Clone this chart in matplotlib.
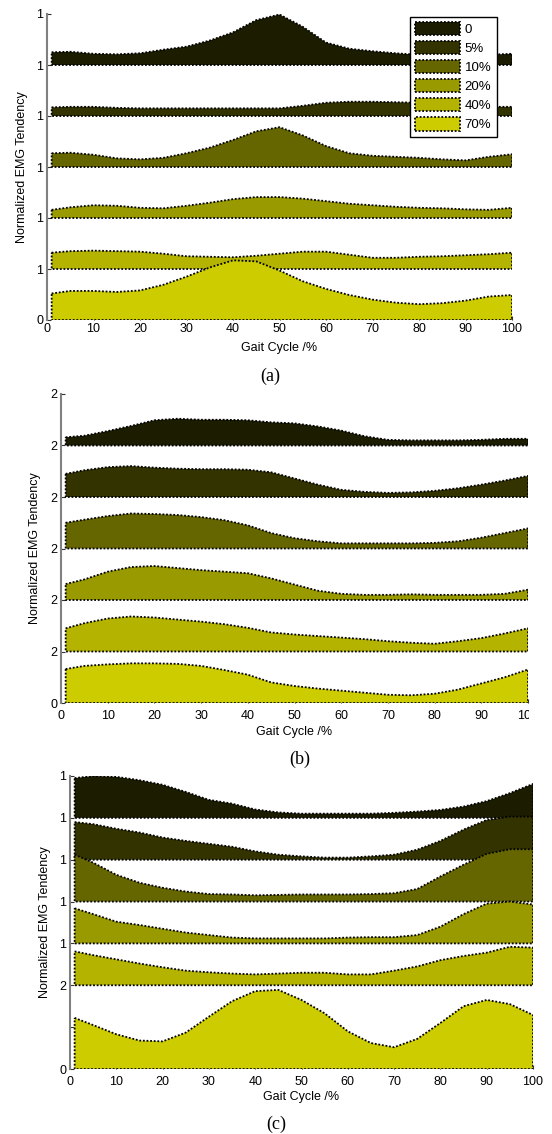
import numpy as np
import matplotlib.pyplot as plt
from matplotlib.transforms import Bbox, TransformedBbox

plt.rcParams['font.family'] = ['Liberation Sans', 'DejaVu Sans']

W, H = 552, 1134

# gait cycle sample points (%)
gait = [1, 5, 10, 15, 20, 25, 30, 35, 40, 45, 50, 55, 60, 65, 70, 75, 80, 85, 90, 95, 100]
levels = ['0', '5%', '10%', '20%', '40%', '70%']
colors = ['#1c1c00', '#333300', '#666600', '#999900', '#b3b300', '#cccc00']

# ---- panel (a) ----
a_0 = [0.25, 0.26, 0.22, 0.21, 0.23, 0.30, 0.36, 0.48, 0.64, 0.88, 0.99, 0.75, 0.44, 0.32, 0.27, 0.23, 0.20, 0.20, 0.20, 0.20, 0.22]
a_5 = [0.17, 0.18, 0.18, 0.16, 0.15, 0.15, 0.15, 0.15, 0.15, 0.15, 0.15, 0.20, 0.26, 0.28, 0.28, 0.27, 0.26, 0.22, 0.20, 0.18, 0.18]
a_10 = [0.27, 0.28, 0.24, 0.17, 0.15, 0.18, 0.27, 0.38, 0.53, 0.70, 0.78, 0.62, 0.41, 0.27, 0.22, 0.20, 0.18, 0.15, 0.13, 0.20, 0.25]
a_20 = [0.16, 0.21, 0.25, 0.24, 0.20, 0.19, 0.24, 0.30, 0.37, 0.41, 0.41, 0.38, 0.33, 0.28, 0.25, 0.22, 0.20, 0.19, 0.17, 0.16, 0.20]
a_40 = [0.32, 0.35, 0.36, 0.35, 0.34, 0.30, 0.25, 0.24, 0.23, 0.26, 0.30, 0.34, 0.34, 0.28, 0.22, 0.22, 0.24, 0.25, 0.27, 0.29, 0.32]
a_70 = [0.52, 0.57, 0.57, 0.55, 0.58, 0.69, 0.85, 1.03, 1.17, 1.15, 0.97, 0.76, 0.61, 0.49, 0.40, 0.34, 0.31, 0.33, 0.38, 0.46, 0.49]

# ---- panel (b) ----
b_0 = [0.16, 0.19, 0.28, 0.38, 0.49, 0.52, 0.50, 0.50, 0.49, 0.45, 0.43, 0.37, 0.29, 0.18, 0.11, 0.10, 0.10, 0.10, 0.11, 0.13, 0.13]
b_5 = [0.45, 0.52, 0.58, 0.60, 0.57, 0.55, 0.54, 0.54, 0.53, 0.48, 0.36, 0.24, 0.14, 0.10, 0.08, 0.09, 0.12, 0.17, 0.24, 0.32, 0.41]
b_10 = [0.50, 0.56, 0.63, 0.68, 0.67, 0.65, 0.61, 0.55, 0.45, 0.30, 0.20, 0.14, 0.10, 0.10, 0.10, 0.10, 0.11, 0.14, 0.21, 0.30, 0.39]
b_20 = [0.31, 0.40, 0.55, 0.64, 0.66, 0.62, 0.58, 0.55, 0.52, 0.42, 0.30, 0.18, 0.12, 0.10, 0.10, 0.11, 0.10, 0.10, 0.10, 0.12, 0.20]
b_40 = [0.45, 0.55, 0.64, 0.68, 0.66, 0.62, 0.58, 0.53, 0.46, 0.37, 0.33, 0.30, 0.27, 0.24, 0.20, 0.17, 0.15, 0.20, 0.26, 0.35, 0.45]
b_70 = [0.66, 0.72, 0.75, 0.77, 0.77, 0.76, 0.72, 0.64, 0.55, 0.40, 0.33, 0.28, 0.24, 0.20, 0.16, 0.15, 0.18, 0.26, 0.38, 0.50, 0.65]

# ---- panel (c) ----
c_0 = [0.95, 1.00, 0.98, 0.90, 0.79, 0.62, 0.43, 0.34, 0.20, 0.13, 0.10, 0.10, 0.10, 0.10, 0.12, 0.15, 0.19, 0.27, 0.40, 0.59, 0.81]
c_5 = [0.90, 0.85, 0.74, 0.65, 0.53, 0.45, 0.38, 0.31, 0.20, 0.12, 0.08, 0.05, 0.05, 0.08, 0.12, 0.24, 0.45, 0.72, 0.95, 1.03, 1.03]
c_10 = [1.12, 0.93, 0.64, 0.45, 0.33, 0.24, 0.18, 0.17, 0.15, 0.16, 0.17, 0.17, 0.17, 0.18, 0.20, 0.30, 0.60, 0.88, 1.14, 1.25, 1.25]
c_20 = [0.84, 0.70, 0.52, 0.44, 0.35, 0.26, 0.20, 0.14, 0.12, 0.12, 0.12, 0.12, 0.14, 0.15, 0.15, 0.20, 0.40, 0.70, 0.95, 1.00, 0.93]
c_40 = [0.81, 0.72, 0.62, 0.52, 0.43, 0.35, 0.31, 0.28, 0.26, 0.28, 0.30, 0.30, 0.26, 0.26, 0.35, 0.45, 0.60, 0.70, 0.78, 0.92, 0.90]
c_70 = [1.22, 1.05, 0.83, 0.68, 0.66, 0.87, 1.25, 1.62, 1.86, 1.89, 1.65, 1.33, 0.90, 0.62, 0.52, 0.72, 1.10, 1.50, 1.65, 1.55, 1.29]

fig = plt.figure(figsize=(W / 100, H / 100), dpi=100)


def px_axes(l, t, r, b):
    return fig.add_axes([l / W, 1 - b / H, (r - l) / W, (b - t) / H])


def draw_panel(ax, series, bases, ymax, yticklabels, pad, ylab_x, xlab_y):
    for i, vals in enumerate(series):
        xs = gait + gait[::-1]
        ys = [bases[i] + v for v in vals] + [bases[i]] * len(gait)
        ax.fill(xs, ys, facecolor=colors[i], edgecolor='black',
                linestyle=(0, (1, 1)), linewidth=1.3, label=levels[i])
    ax.set_xlim(0, 100)
    ax.set_ylim(0, ymax)
    ax.set_xticks(range(0, 101, 10))
    ax.set_yticks(range(ymax + 1))
    ax.set_yticklabels(yticklabels)
    for s in ['top', 'right', 'bottom']:
        ax.spines[s].set_visible(False)
    ax.spines['left'].set_color('#808080')
    ax.spines['left'].set_linewidth(1.5)
    ax.set_axisbelow(True)
    ax.tick_params(direction='in', length=3, width=0.8, color='#333333', labelsize=9)
    ax.tick_params(axis='x', pad=pad)
    ax.tick_params(axis='y', pad=2.5)
    ax.set_xlabel('Gait Cycle /%', fontsize=9, va='center')
    ax.xaxis.set_label_coords(0.5, xlab_y)
    ax.set_ylabel('Normalized EMG Tendency', fontsize=9, va='center')
    ax.yaxis.set_label_coords(ylab_x, 0.5)


ax_a = px_axes(47, 14, 512, 320)
draw_panel(ax_a, [a_0, a_5, a_10, a_20, a_40, a_70], [5, 4, 3, 2, 1, 0], 6,
           ['0', '1', '1', '1', '1', '1', '1'], 2.0, -0.054, -0.0915)
leg = ax_a.legend(loc='upper left', bbox_to_anchor=(410 / W, 1 - 17 / H),
                  bbox_transform=fig.transFigure, fontsize=9.5, fancybox=False,
                  edgecolor='black', framealpha=1, borderpad=0.4, borderaxespad=0,
                  handlelength=3.4, handleheight=1.15, labelspacing=0.38, handletextpad=0.35)
leg.get_frame().set_linewidth(1.0)

ax_b = px_axes(61, 394, 528, 703)
draw_panel(ax_b, [b_0, b_5, b_10, b_20, b_40, b_70], [5, 4, 3, 2, 1, 0], 6,
           ['0', '2', '2', '2', '2', '2', '2'], 5.0, -0.0557, -0.094)

ax_c = px_axes(70, 776, 533, 1069)
draw_panel(ax_c, [c_0, c_5, c_10, c_20, c_40, c_70], [6, 5, 4, 3, 2, 0], 7,
           ['0', '', '2', '1', '1', '1', '1', '1'], 5.0, -0.054, -0.0956)

fig.text(270 / W, 1 - 376 / H, '(a)', family='Liberation Serif', fontsize=13, ha='center', va='center')
fig.text(300 / W, 1 - 759 / H, '(b)', family='Liberation Serif', fontsize=13, ha='center', va='center')
fig.text(276 / W, 1 - 1124 / H, '(c)', family='Liberation Serif', fontsize=13, ha='center', va='center')

# panel (b) is cropped on the right in the source, so its last tick label is cut
fig.canvas.draw()
clip = TransformedBbox(Bbox([[0, 0], [529 / W, 1]]), fig.transFigure)
for lbl in ax_b.get_xticklabels():
    lbl.set_clip_on(True)
    lbl.set_clip_box(clip)

fig.savefig('out.png', dpi=100)
